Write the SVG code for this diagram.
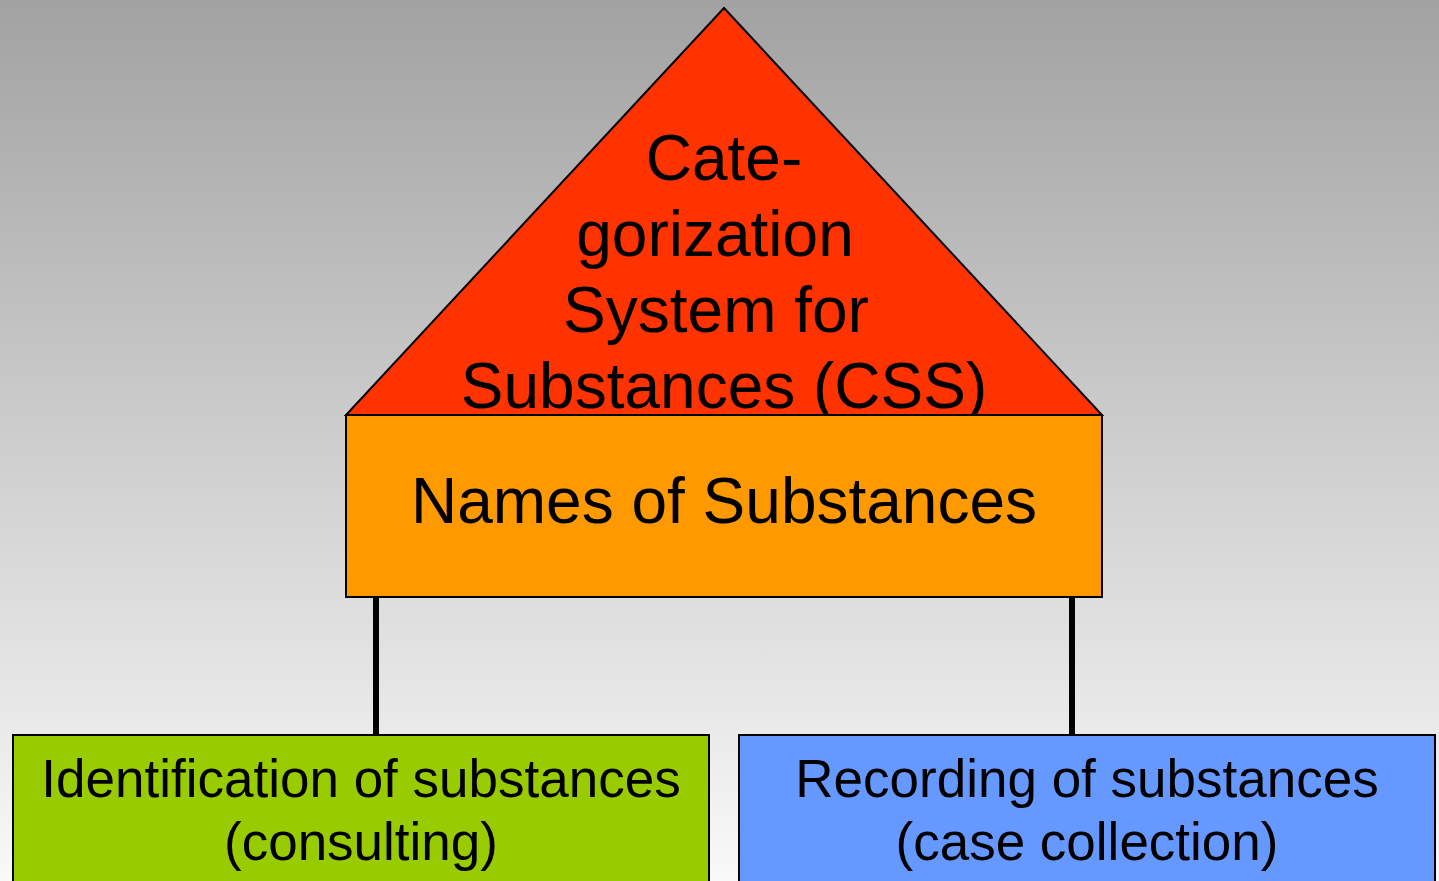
<svg xmlns="http://www.w3.org/2000/svg" width="1439" height="881" viewBox="0 0 1439 881">
  <defs>
    <linearGradient id="bg" x1="0" y1="0" x2="0" y2="1">
      <stop offset="0" stop-color="#a2a2a2"/>
      <stop offset="1" stop-color="#f9f9f9"/>
    </linearGradient>
  </defs>
  <style>
    .shape { stroke: #000; stroke-width: 2; stroke-linejoin: miter; }
    .label { font-family: "Liberation Sans", Arial, sans-serif; fill: #000; text-anchor: middle; }
    .big { font-size: 64px; }
    .small { font-size: 53px; }
    .link { stroke: #000; stroke-width: 6; fill: none; }
  </style>
  <rect x="0" y="0" width="1439" height="881" fill="url(#bg)"/>

  <g id="connectors">
    <line class="link" x1="376" y1="597" x2="376" y2="734"/>
    <line class="link" x1="1072" y1="597" x2="1072" y2="734"/>
  </g>

  <g id="roof">
    <polygon class="shape" points="724,8 1102,415 346,415" fill="#ff3300"/>
    <text class="label big" x="724" y="180">Cate-</text>
    <text class="label big" x="715" y="256">gorization</text>
    <text class="label big" x="716" y="332">System for</text>
    <text class="label big" x="724" y="408">Substances (CSS)</text>
  </g>

  <g id="names">
    <rect class="shape" x="346" y="415" width="756" height="182" fill="#ff9900"/>
    <text class="label big" x="724" y="523">Names of Substances</text>
  </g>

  <g id="identification">
    <rect class="shape" x="13" y="735" width="696" height="160" fill="#99cc00"/>
    <text class="label small" x="361" y="797">Identification of substances</text>
    <text class="label small" x="361" y="860">(consulting)</text>
  </g>

  <g id="recording">
    <rect class="shape" x="739" y="735" width="696" height="160" fill="#6699ff"/>
    <text class="label small" x="1087" y="797">Recording of substances</text>
    <text class="label small" x="1087" y="860">(case collection)</text>
  </g>
</svg>
